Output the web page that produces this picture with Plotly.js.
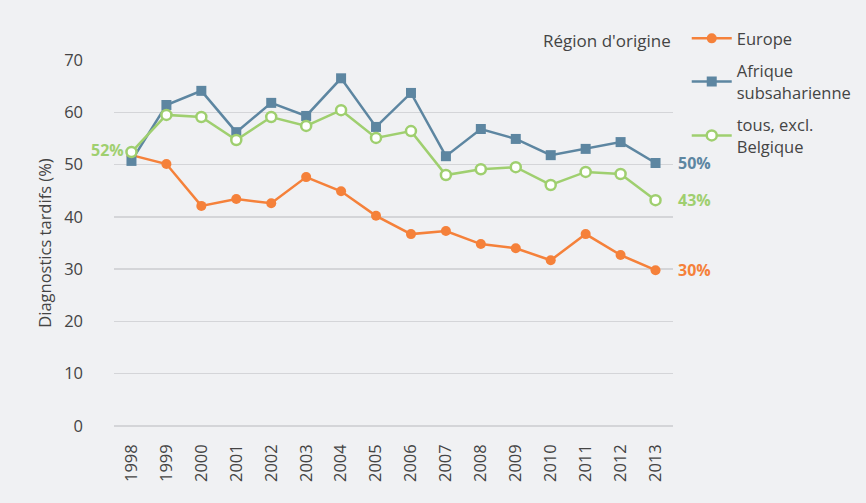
<!DOCTYPE html>
<html>
<head>
<meta charset="utf-8">
<script src="https://cdn.plot.ly/plotly-3.0.1.min.js"></script>
<style>
html,body{margin:0;padding:0;background:#f0f1f3;}
#chart{width:866px;height:503px;}
</style>
</head>
<body>
<div id="chart"></div>
<script>
const years = [1998,1999,2000,2001,2002,2003,2004,2005,2006,2007,2008,2009,2010,2011,2012,2013];
const europe = [51.8,50.1,42.1,43.4,42.6,47.6,44.9,40.2,36.7,37.3,34.8,34.0,31.7,36.7,32.7,29.8];
const afrique = [50.7,61.4,64.1,56.2,61.8,59.3,66.5,57.2,63.7,51.6,56.8,54.9,51.8,53.0,54.3,50.3];
const tous = [52.4,59.5,59.1,54.7,59.1,57.4,60.4,55.1,56.4,48.0,49.1,49.5,46.1,48.6,48.2,43.2];
const seriesNames = ["Europe","Afrique<br>subsaharienne","tous, excl.<br>Belgique"];
const endLabels = ["30%","50%","43%"];
const startLabel = "52%";

const cOrange = "#f5813a", cBlue = "#5d86a1", cGreen = "#9fcf6f";
const font = "Open Sans, Noto Sans, sans-serif";

const traces = [
  {x: years, y: europe, name: seriesNames[0], legendgroup:"a", mode: "lines+markers", cliponaxis:false,
   line:{color:cOrange,width:2.5}, marker:{symbol:"circle",size:10,color:cOrange}},
  {x: years, y: afrique, name: seriesNames[1], legendgroup:"b", mode: "lines+markers", cliponaxis:false,
   line:{color:cBlue,width:2.5}, marker:{symbol:"square",size:10,color:cBlue}},
  {x: years, y: tous, name: seriesNames[2], legendgroup:"c", mode: "lines+markers", cliponaxis:false,
   line:{color:cGreen,width:2.5}, marker:{symbol:"circle",size:10,color:"#ffffff",line:{color:cGreen,width:2.5}}}
];

const last = years.length-1;
const annotations = [
  {x: years[last], y: afrique[last], xref:"x", yref:"y", text:"<b>"+endLabels[1]+"</b>", showarrow:false, xanchor:"left", xshift:20, font:{family:font,size:16,color:cBlue}},
  {x: years[last], y: tous[last], xref:"x", yref:"y", text:"<b>"+endLabels[2]+"</b>", showarrow:false, xanchor:"left", xshift:20, font:{family:font,size:16,color:cGreen}},
  {x: years[last], y: europe[last], xref:"x", yref:"y", text:"<b>"+endLabels[0]+"</b>", showarrow:false, xanchor:"left", xshift:20, font:{family:font,size:16,color:cOrange}},
  {x: years[0], y: tous[0], xref:"x", yref:"y", text:"<b>"+startLabel+"</b>", showarrow:false, xanchor:"right", xshift:-5, yshift:2, font:{family:font,size:16,color:cGreen}},
  {x: 1, y: 1.0546, xref:"paper", yref:"paper", text:"Région d'origine", showarrow:false, xanchor:"right", yanchor:"middle", xshift:0, font:{family:font,size:17,color:"#444"}}
];

const layout = {
  width: 866, height: 503,
  paper_bgcolor: "#f0f1f3", plot_bgcolor: "#f0f1f3",
  margin: {l:114, r:193, t:60, b:77, autoexpand:false},
  font: {family: font, color:"#444", size:16},
  showlegend: true,
  legend: {x:0.793, y:0.958, xref:"container", yref:"container", xanchor:"left", yanchor:"top", bgcolor:"rgba(0,0,0,0)",
           traceorder:"grouped", font:{family:font,size:16.5,color:"#444"}, tracegroupgap:8, itemwidth:40},
  xaxis: {range:[1997.5,2013.5], tickmode:"array", tickvals: years, ticktext: years.map(String),
          tickangle:-90, showgrid:false, zeroline:false, showline:false, ticks:"",
          ticklabelstandoff:14, automargin:false,
          tickfont:{family:font,size:16.5,color:"#444"}},
  yaxis: {range:[0,70], dtick:10, showgrid:true, gridcolor:"#d4d5d8", gridwidth:1.5,
          zeroline:true, zerolinecolor:"#d4d5d8", zerolinewidth:1.5, showline:false, ticks:"",
          ticklabelstandoff:30, automargin:false,
          title:{text:"Diagnostics tardifs (%)", font:{family:font,size:16.5,color:"#444"}, standoff:8},
          tickfont:{family:font,size:16.5,color:"#444"}},
  annotations: annotations
};

Plotly.newPlot("chart", traces, layout, {displayModeBar:false, staticPlot:true});
</script>
</body>
</html>
